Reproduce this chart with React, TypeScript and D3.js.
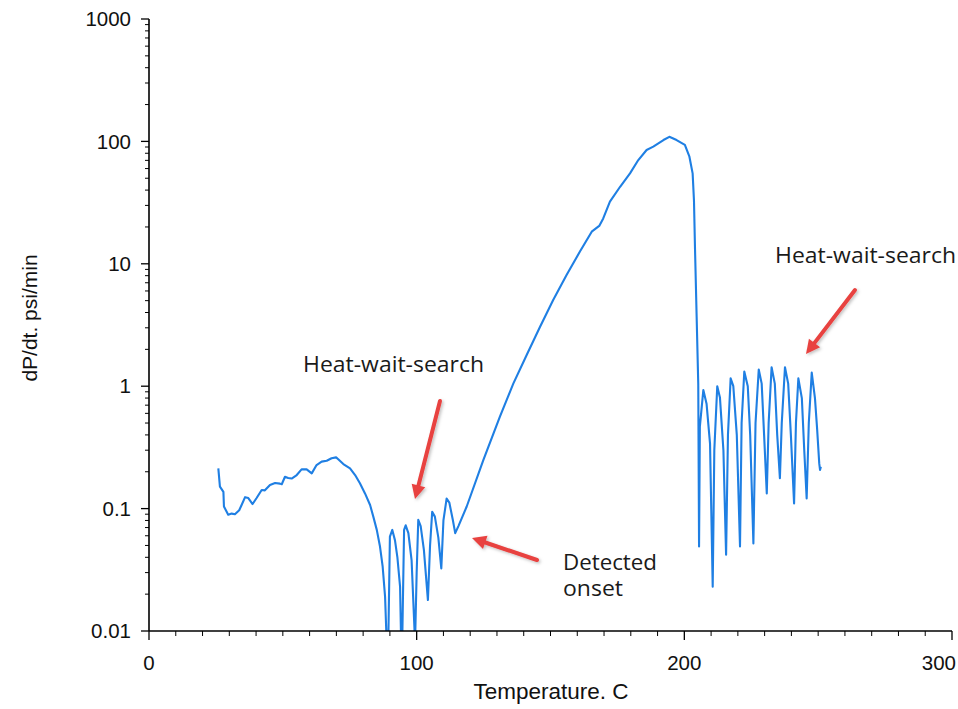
import React from "react";
import * as d3 from "d3";

const temperatures = [
  25.9, 26.5, 27.8, 28.0, 29.6, 30.9, 32.1, 33.7, 34.6, 35.9, 37.1, 38.7, 40.2, 42.1, 43.3, 45.2, 47.1, 48.9, 49.6,
  50.8, 52.0, 53.3, 55.2, 57.0, 58.9, 60.8, 62.6, 64.5, 66.4, 68.2, 69.9, 70.7, 72.6, 75.1, 77.0, 78.8, 80.7,
  82.6, 83.8, 85.1, 86.3, 87.3, 88.2, 88.8, 89.4, 90.0, 90.9, 91.9, 92.8, 93.8, 94.2, 94.6, 95.3, 95.9, 96.9,
  98.1, 99.4, 100.0, 100.6, 101.5, 102.7, 104.2, 105.0, 105.8, 106.8, 108.1, 109.2, 110.0, 111.2, 112.2, 113.5,
  114.4, 115.6, 118.7, 124.9, 131.1, 136.1, 141.1, 146.1, 151.0, 156.0, 161.0, 165.4, 168.2, 169.7, 172.2,
  176.0, 179.7, 182.8, 185.9, 188.4, 192.2, 194.4, 197.1, 200.2, 201.9, 203.1, 203.6, 204.0, 204.6, 205.2,
  205.5, 205.8, 207.1, 208.3, 209.6, 210.6, 211.2, 212.3, 213.3, 214.6, 215.6, 216.3, 217.3, 218.3, 219.6,
  220.8, 221.4, 222.4, 223.7, 224.6, 225.8, 226.6, 227.8, 228.9, 229.8, 230.8, 231.5, 232.6, 233.8, 234.7,
  235.7, 236.4, 237.6, 238.8, 239.8, 241.0, 241.7, 242.6, 243.9, 244.8, 245.7, 246.5, 247.6, 248.8, 249.6,
  250.4, 250.7, 251.0,
];

const dpdtValues = [
  0.213, 0.151, 0.137, 0.104, 0.089, 0.091, 0.09, 0.097, 0.107, 0.124, 0.122, 0.109, 0.122, 0.142, 0.141, 0.156,
  0.162, 0.16, 0.158, 0.182, 0.178, 0.176, 0.188, 0.209, 0.209, 0.194, 0.227, 0.242, 0.246, 0.258, 0.262, 0.253,
  0.231, 0.213, 0.188, 0.161, 0.133, 0.107, 0.086, 0.067, 0.049, 0.0335, 0.019, 0.008, 0.008, 0.059, 0.067,
  0.055, 0.04, 0.023, 0.008, 0.008, 0.067, 0.073, 0.063, 0.038, 0.008, 0.03, 0.081, 0.072, 0.046, 0.0179, 0.05,
  0.094, 0.086, 0.058, 0.0325, 0.08, 0.121, 0.112, 0.081, 0.063, 0.072, 0.104, 0.249, 0.563, 1.05, 1.8, 3.06,
  5.06, 8.1, 12.6, 18.3, 20.4, 23.5, 32.2, 42.6, 54.8, 70.4, 85.1, 90.6, 102.6, 109, 102.6, 93.6, 75, 54.8, 33,
  13, 3.7, 1.05, 0.049, 0.467, 0.93, 0.72, 0.34, 0.023, 0.3, 1.0, 0.81, 0.3, 0.042, 0.4, 1.16, 1.0, 0.4, 0.049,
  0.5, 1.32, 1.0, 0.4, 0.052, 0.5, 1.37, 1.05, 0.4, 0.133, 0.5, 1.43, 1.05, 0.4, 0.177, 0.5, 1.43, 1.05, 0.4,
  0.11, 0.5, 1.16, 0.8, 0.3, 0.121, 0.5, 1.29, 0.8, 0.45, 0.234, 0.207, 0.22,
];

const xTickValues = [0, 100, 200, 300];
const yTickValues = [0.01, 0.1, 1, 10, 100, 1000];
const yTickLabels = ["0.01", "0.1", "1", "10", "100", "1000"];

const xTitle = "Temperature. C";
const yTitle = "dP/dt. psi/min";

const annotationTexts = ["Heat-wait-search", "Detected", "onset", "Heat-wait-search"];

const W = 958;
const H = 709;
const left = 149;
const right = 952;
const top = 19;
const bottom = 631;

const x = d3.scaleLinear().domain([0, 300]).range([left, right]);
const y = d3.scaleLog().domain([0.01, 1000]).range([bottom, top]);

const points: [number, number][] = temperatures.map((t, i) => [t, dpdtValues[i]]);

const lineGen = d3
  .line<[number, number]>()
  .x((d) => x(d[0]))
  .y((d) => y(d[1]))
  .curve(d3.curveLinear);

const xMinor = d3.range(0, 301, 10).filter((v) => v % 100 !== 0);
const yMinor: number[] = [];
for (let e = -2; e < 3; e++) {
  for (let k = 2; k <= 9; k++) yMinor.push(k * Math.pow(10, e));
}

const axisFont = "'Liberation Sans', Arial, sans-serif";
const annFont = "'Open Sans', 'Noto Sans', sans-serif";
const lineColor = "#1f7fe3";
const arrowColor = "#e8423f";

function Arrow({ x1, y1, x2, y2 }: { x1: number; y1: number; x2: number; y2: number }) {
  const ang = Math.atan2(y2 - y1, x2 - x1);
  const headLen = 14;
  const headW = 7;
  const bx = x2 - headLen * Math.cos(ang);
  const by = y2 - headLen * Math.sin(ang);
  const px = -Math.sin(ang) * headW;
  const py = Math.cos(ang) * headW;
  return (
    <g filter="url(#shadow)">
      <line x1={x1} y1={y1} x2={bx} y2={by} stroke={arrowColor} strokeWidth={4} strokeLinecap="round" />
      <polygon points={`${x2},${y2} ${bx + px},${by + py} ${bx - px},${by - py}`} fill={arrowColor} />
    </g>
  );
}

export default function App() {
  return (
    <svg
      width={W}
      height={H}
      viewBox={`0 0 ${W} ${H}`}
      style={{ position: "absolute", left: 0, top: 0, background: "#fff" }}
    >
      <defs>
        <clipPath id="plot">
          <rect x={left} y={top} width={right - left} height={bottom - top} />
        </clipPath>
        <filter id="shadow" x="-50%" y="-50%" width="200%" height="200%">
          <feDropShadow dx="1.5" dy="1.5" stdDeviation="1.5" floodColor="#000" floodOpacity="0.25" />
        </filter>
      </defs>
      <rect x={0} y={0} width={W} height={H} fill="#fff" />

      {/* data line */}
      <path
        d={lineGen(points) || ""}
        fill="none"
        stroke={lineColor}
        strokeWidth={2.1}
        strokeLinejoin="round"
        clipPath="url(#plot)"
      />

      {/* axes */}
      <line x1={left} y1={top} x2={left} y2={bottom} stroke="#000" strokeWidth={1.6} />
      <line x1={left} y1={bottom} x2={right} y2={bottom} stroke="#000" strokeWidth={1.6} />

      {yTickValues.map((v, i) => (
        <g key={"yt" + v}>
          <line x1={left - 8} x2={left} y1={y(v)} y2={y(v)} stroke="#000" strokeWidth={1.3} />
          <text
            x={left - 18}
            y={y(v)}
            dy="0.35em"
            textAnchor="end"
            fontFamily={axisFont}
            fontSize={20.5}
            fill="#111"
          >
            {yTickLabels[i]}
          </text>
        </g>
      ))}
      {yMinor.map((v) => (
        <line key={"ym" + v} x1={left - 4} x2={left} y1={y(v)} y2={y(v)} stroke="#000" strokeWidth={1} />
      ))}

      {xTickValues.map((v, i) => (
        <g key={"xt" + v}>
          <line x1={x(v)} x2={x(v)} y1={bottom} y2={bottom + 9} stroke="#000" strokeWidth={1.3} />
          <text
            x={i === xTickValues.length - 1 ? W - 2 : x(v)}
            y={bottom + 32}
            dy="0.35em"
            textAnchor={i === xTickValues.length - 1 ? "end" : "middle"}
            fontFamily={axisFont}
            fontSize={20.5}
            fill="#111"
          >
            {v}
          </text>
        </g>
      ))}
      {xMinor.map((v) => (
        <line key={"xm" + v} x1={x(v)} x2={x(v)} y1={bottom} y2={bottom + 5} stroke="#000" strokeWidth={1} />
      ))}

      <text
        x={551}
        y={691}
        dy="0.35em"
        textAnchor="middle"
        fontFamily={axisFont}
        fontSize={22.5}
        fill="#111"
      >
        {xTitle}
      </text>
      <text
        transform={`translate(30, 318) rotate(-90)`}
        dy="0.35em"
        textAnchor="middle"
        fontFamily={axisFont}
        fontSize={21}
        fill="#111"
      >
        {yTitle}
      </text>

      {/* annotations */}
      <text x={303} y={372} fontFamily={annFont} fontSize={21} fill="#1a1a1a" textLength={181} lengthAdjust="spacingAndGlyphs">
        {annotationTexts[0]}
      </text>
      <text x={563} y={570} fontFamily={annFont} fontSize={21} fill="#1a1a1a" textLength={94} lengthAdjust="spacingAndGlyphs">
        {annotationTexts[1]}
      </text>
      <text x={563} y={596} fontFamily={annFont} fontSize={21} fill="#1a1a1a" textLength={60} lengthAdjust="spacingAndGlyphs">
        {annotationTexts[2]}
      </text>
      <text x={775} y={263} fontFamily={annFont} fontSize={21} fill="#1a1a1a" textLength={181} lengthAdjust="spacingAndGlyphs">
        {annotationTexts[3]}
      </text>

      <Arrow x1={440} y1={401} x2={415} y2={499} />
      <Arrow x1={537} y1={560} x2={472} y2={538} />
      <Arrow x1={855} y1={290} x2={806} y2={354} />
    </svg>
  );
}
